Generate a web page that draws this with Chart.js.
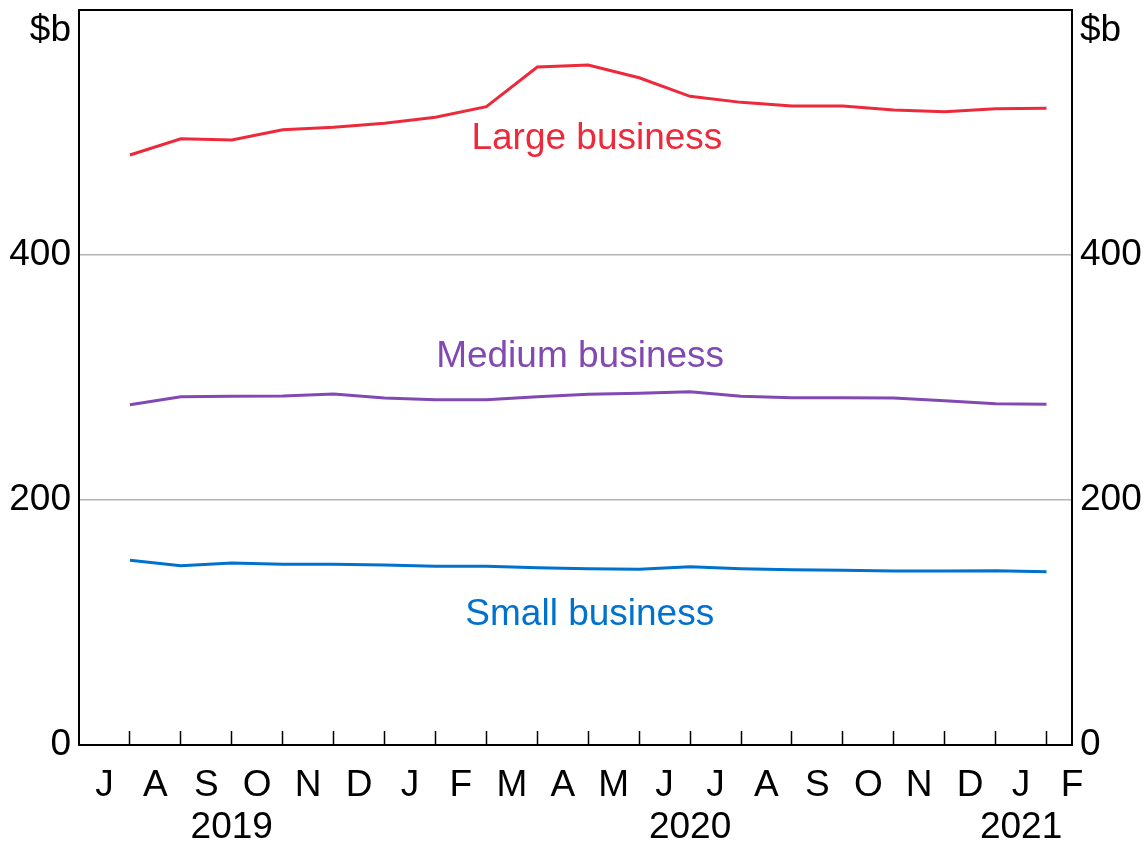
<!DOCTYPE html>
<html>
<head>
<meta charset="utf-8">
<script src="https://cdn.jsdelivr.net/npm/chart.js@4.4.1/dist/chart.umd.min.js"></script>
<style>
  html, body { margin: 0; padding: 0; background: #fff; }
  canvas { display: block; }
</style>
</head>
<body>
<canvas id="chart" width="1144" height="841"></canvas>
<script>
// months Jul 2019 .. Feb 2021 (labels sit mid-month), data at month ends Jul 2019 .. Jan 2021
const MONTH_LABELS = ["J", "A", "S", "O", "N", "D", "J", "F", "M", "A", "M", "J", "J", "A", "S", "O", "N", "D", "J", "F"];
const YEAR_LABELS = ["2019", "2020", "2021"];
const YEAR_POSITIONS = [3, 12, 18.5];
const Y_TICKS = [0, 200, 400];
const UNIT_LABEL = "$b";

const LARGE = [481.6, 494.9, 493.9, 502.3, 504.2, 507.5, 512.4, 521.1, 553.5, 555.1, 544.7, 529.5, 524.6, 521.6, 521.6, 518.4, 517.0, 519.4, 519.7];
const MEDIUM = [277.8, 284.3, 284.7, 284.9, 286.5, 283.3, 281.9, 281.9, 284.3, 286.3, 287.1, 288.4, 284.7, 283.5, 283.5, 283.3, 281.1, 278.6, 278.1];
const SMALL = [150.8, 146.4, 148.6, 147.5, 147.5, 146.9, 145.9, 145.9, 144.7, 143.9, 143.4, 145.5, 143.9, 143.1, 142.6, 142.0, 142.0, 142.3, 141.5];

const SERIES_NAMES = ["Large business", "Medium business", "Small business"];
const SERIES_COLORS = ["#ec2a3b", "#8249b3", "#0071cd"];
// where each series name is written, in data units (x month, y $b)
const LABEL_AT = [[10.17, 494.5], [9.84, 316.5], [10.03, 106]];

const FONT = '"Liberation Sans", Arial, sans-serif';
const FONT_SIZE = 37;
const X_MAX = 19.5;
const Y_MAX = 600;

const toPoints = (values) => values.map((v, i) => ({ x: i + 1, y: v }));

const seriesLabels = {
    id: "seriesLabels",
    afterDatasetsDraw(chart) {
        const { ctx, scales } = chart;
        ctx.save();
        ctx.font = `${FONT_SIZE}px ${FONT}`;
        ctx.textAlign = "center";
        ctx.textBaseline = "middle";
        SERIES_NAMES.forEach((name, i) => {
            ctx.fillStyle = SERIES_COLORS[i];
            ctx.fillText(name, scales.x.getPixelForValue(LABEL_AT[i][0]), scales.y.getPixelForValue(LABEL_AT[i][1]));
        });
        ctx.restore();
    },
};

function noPadding(scale) {
    scale.paddingTop = 0;
    scale.paddingBottom = 0;
    scale.paddingLeft = 0;
    scale.paddingRight = 0;
}

function yAxis(position, width, drawGrid) {
    return {
        type: "linear",
        position,
        min: 0,
        max: Y_MAX,
        afterBuildTicks: (scale) => {
            scale.ticks = [...Y_TICKS, 583].map((value) => ({ value }));
        },
        afterFit: (scale) => {
            scale.width = width;
            noPadding(scale);
        },
        ticks: {
            font: { family: FONT, size: FONT_SIZE },
            color: "#000",
            padding: 8,
            callback: (value) => (value === 583 ? UNIT_LABEL : String(value)),
        },
        grid: {
            display: drawGrid,
            drawOnChartArea: drawGrid,
            drawTicks: false,
            color: (c) => (c.tick && (c.tick.value === 200 || c.tick.value === 400) ? "#b4b4b4" : "rgba(0,0,0,0)"),
            lineWidth: 1.5,
        },
        border: { display: true, color: "#000", width: 2 },
    };
}

function xAxis(extra) {
    return Object.assign({
        type: "linear",
        min: 0,
        max: X_MAX,
        grid: { display: false },
        border: { display: false },
    }, extra);
}

new Chart(document.getElementById("chart"), {
    type: "line",
    data: {
        datasets: [LARGE, MEDIUM, SMALL].map((values, i) => ({
            label: SERIES_NAMES[i],
            data: toPoints(values),
            borderColor: SERIES_COLORS[i],
            borderWidth: 3,
            pointRadius: 0,
            tension: 0,
            fill: false,
            xAxisID: "x",
            yAxisID: "y",
        })),
    },
    options: {
        responsive: false,
        animation: false,
        devicePixelRatio: 1,
        layout: { padding: { top: 10, left: 0, right: 0, bottom: 0 } },
        plugins: { legend: { display: false }, tooltip: { enabled: false } },
        scales: {
            x: xAxis({
                position: "bottom",
                weight: 0,
                afterBuildTicks: (scale) => {
                    scale.ticks = MONTH_LABELS.slice(1).map((_, i) => ({ value: i + 1 }));
                },
                afterFit: (scale) => { scale.height = 0; noPadding(scale); },
                ticks: { display: false },
                grid: {
                    display: true,
                    drawOnChartArea: false,
                    drawTicks: true,
                    tickLength: -14,
                    tickColor: "#000",
                    tickWidth: 1.5,
                },
                border: { display: true, color: "#000", width: 2 },
            }),
            xMonths: xAxis({
                position: "bottom",
                weight: 1,
                afterBuildTicks: (scale) => {
                    scale.ticks = MONTH_LABELS.map((_, i) => ({ value: i + 0.5 }));
                },
                afterFit: (scale) => { scale.height = 52; noPadding(scale); },
                ticks: {
                    autoSkip: false,
                    maxRotation: 0,
                    padding: 11,
                    color: "#000",
                    font: { family: FONT, size: FONT_SIZE },
                    callback: (value, index) => MONTH_LABELS[index],
                },
            }),
            xYears: xAxis({
                position: "bottom",
                weight: 2,
                afterBuildTicks: (scale) => {
                    scale.ticks = YEAR_POSITIONS.map((value) => ({ value }));
                },
                afterFit: (scale) => { scale.height = 44; noPadding(scale); },
                ticks: {
                    autoSkip: false,
                    maxRotation: 0,
                    padding: 1,
                    color: "#000",
                    font: { family: FONT, size: FONT_SIZE },
                    callback: (value, index) => YEAR_LABELS[index],
                },
            }),
            xTop: xAxis({
                position: "top",
                afterFit: (scale) => { scale.height = 0; noPadding(scale); },
                ticks: { display: false },
                border: { display: true, color: "#000", width: 2 },
            }),
            y: yAxis("left", 79, true),
            y2: yAxis("right", 72, false),
        },
    },
    plugins: [seriesLabels],
});
</script>
</body>
</html>
